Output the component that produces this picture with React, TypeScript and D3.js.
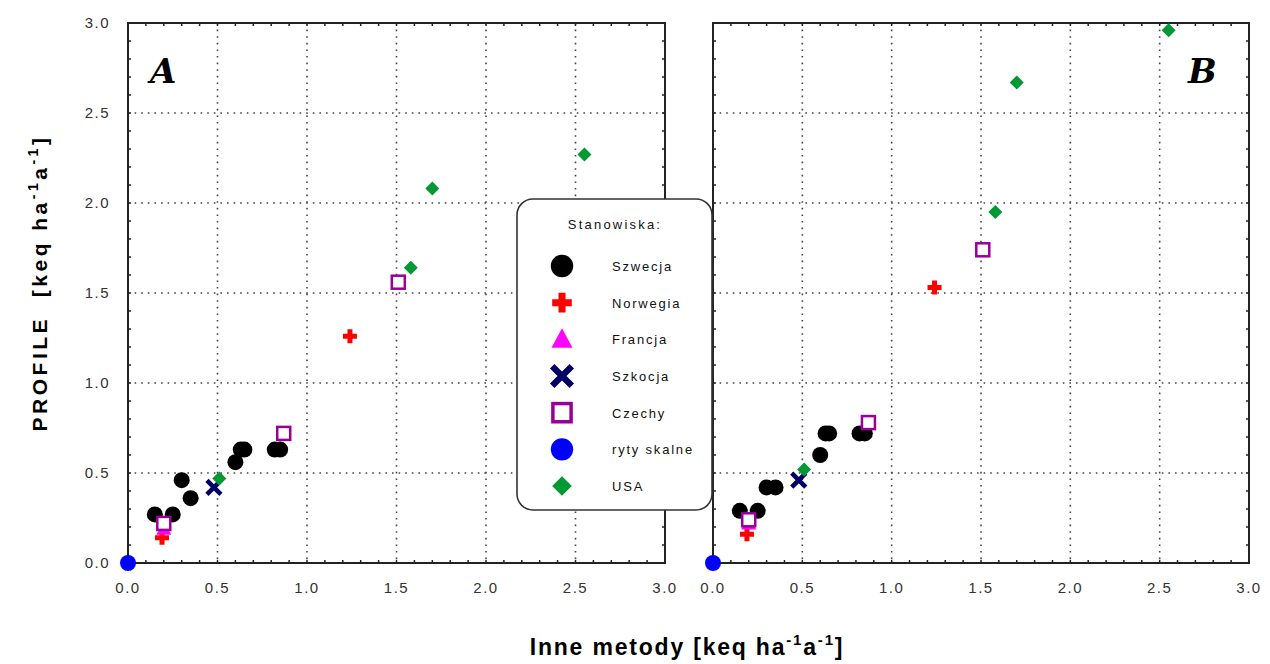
import React from 'react';
import * as d3 from 'd3';

// "Inne metody" values (x) – shared by both panels
const xSzwecja = [0.15, 0.25, 0.30, 0.35, 0.60, 0.63, 0.65, 0.82, 0.85];
const xNorwegia = [0.19, 1.24];
const xFrancja = [0.20];
const xSzkocja = [0.48];
const xCzechy = [0.20, 0.87, 1.51];
const xSkalne = [0.0];
const xUSA = [0.51, 1.58, 1.70, 2.55];

// PROFILE values, panel A
const aSzwecja = [0.27, 0.27, 0.46, 0.36, 0.56, 0.63, 0.63, 0.63, 0.63];
const aNorwegia = [0.14, 1.26];
const aFrancja = [0.19];
const aSzkocja = [0.42];
const aCzechy = [0.22, 0.72, 1.56];
const aSkalne = [0.0];
const aUSA = [0.47, 1.64, 2.08, 2.27];

// PROFILE values, panel B
const bSzwecja = [0.29, 0.29, 0.42, 0.42, 0.60, 0.72, 0.72, 0.72, 0.72];
const bNorwegia = [0.16, 1.53];
const bFrancja = [0.22];
const bSzkocja = [0.46];
const bCzechy = [0.24, 0.78, 1.74];
const bSkalne = [0.0];
const bUSA = [0.52, 1.95, 2.67, 2.96];

const tickLabels = ['0.0', '0.5', '1.0', '1.5', '2.0', '2.5', '3.0'];
const legendNames = ['Szwecja', 'Norwegia', 'Francja', 'Szkocja', 'Czechy', 'ryty skalne', 'USA'];

const series = [
  { key: 'circle', color: '#000000', x: xSzwecja, a: aSzwecja, b: bSzwecja },
  { key: 'cross', color: '#ff0000', x: xNorwegia, a: aNorwegia, b: bNorwegia },
  { key: 'triangle', color: '#ff00ff', x: xFrancja, a: aFrancja, b: bFrancja },
  { key: 'x', color: '#000066', x: xSzkocja, a: aSzkocja, b: bSzkocja },
  { key: 'square', color: '#990099', x: xCzechy, a: aCzechy, b: bCzechy },
  { key: 'circle', color: '#0000ff', x: xSkalne, a: aSkalne, b: bSkalne },
  { key: 'diamond', color: '#009933', x: xUSA, a: aUSA, b: bUSA },
];

const tickFont = { fontFamily: 'Arial, "Liberation Sans", sans-serif', fontSize: 15, fill: '#333', letterSpacing: 1.5 };

// s = scale factor, legend symbols are drawn bigger than the plot ones
function Marker({ kind, color, cx, cy, s = 1 }) {
  const t = `translate(${cx},${cy}) scale(${s})`;
  if (kind === 'circle') return <circle cx={cx} cy={cy} r={8 * s} fill={color} />;
  if (kind === 'cross')
    return (
      <path transform={t} fill={color}
        d="M-2.5,-7H2.5V-2.5H7V2.5H2.5V7H-2.5V2.5H-7V-2.5H-2.5Z" />
    );
  if (kind === 'triangle') return <path transform={t} fill={color} d="M0,-8L7.5,6H-7.5Z" />;
  if (kind === 'x')
    return (
      <path transform={t} stroke={color} strokeWidth={4.5} fill="none" d="M-7,-7L7,7M-7,7L7,-7" />
    );
  if (kind === 'square')
    return <rect transform={t} x={-6.5} y={-6.5} width={13} height={13} fill="white" stroke={color} strokeWidth={2.5} />;
  if (kind === 'diamond') return <path transform={t} fill={color} d="M0,-7L7,0L0,7L-7,0Z" />;
  return null;
}

function Panel({ left, right, top, bottom, which, label, labelX }) {
  const x = d3.scaleLinear().domain([0, 3]).range([left, right]);
  const y = d3.scaleLinear().domain([0, 3]).range([bottom, top]);
  const minor = d3.range(0, 3.0001, 0.1);
  const grid = [0.5, 1, 1.5, 2, 2.5];
  return (
    <g>
      {grid.map((g) => (
        <g key={'g' + g}>
          <line x1={x(g)} x2={x(g)} y1={top} y2={bottom} stroke="#444" strokeWidth={1.6} strokeDasharray="1.6,5" />
          <line x1={left} x2={right} y1={y(g)} y2={y(g)} stroke="#444" strokeWidth={1.6} strokeDasharray="1.6,5" />
        </g>
      ))}
      {minor.map((m, i) => (
        <g key={'t' + i} stroke="#222" strokeWidth={1.5}>
          <line x1={x(m)} x2={x(m)} y1={bottom} y2={bottom - 3} />
          <line x1={x(m)} x2={x(m)} y1={top} y2={top + 3} />
          <line x1={left} x2={left + 3} y1={y(m)} y2={y(m)} />
          <line x1={right} x2={right - 3} y1={y(m)} y2={y(m)} />
        </g>
      ))}
      <rect x={left} y={top} width={right - left} height={bottom - top} fill="none" stroke="#222" strokeWidth={2} />
      {tickLabels.map((t, i) => (
        <text key={'xl' + i} x={x(i * 0.5)} y={bottom + 30} textAnchor="middle" {...tickFont}>{t}</text>
      ))}
      {which === 'a' &&
        tickLabels.map((t, i) => (
          <text key={'yl' + i} x={left - 18} y={y(i * 0.5) + 5} textAnchor="end" {...tickFont}>{t}</text>
        ))}
      <text x={labelX} y={top + 60} fontFamily='"DejaVu Serif", "Liberation Serif", serif' fontStyle="italic"
        fontWeight="bold" fontSize={34} fill="#000">{label}</text>
      {series.map((s, si) =>
        s.x.map((v, i) => (
          <Marker key={si + '-' + i} kind={s.key} color={s.color} cx={x(v)} cy={y(s[which][i])} />
        ))
      )}
    </g>
  );
}

export default function App() {
  const legendX = 517;
  const legendY = 199;
  const rowY = d3.scaleLinear().domain([0, 6]).range([266, 486]);
  return (
    <svg width={1270} height={664} style={{ position: 'absolute', left: 0, top: 0 }}>
      <rect width={1270} height={664} fill="white" />
      <Panel left={128} right={665} top={23} bottom={563} which="a" label="A" labelX={150} />
      <Panel left={713} right={1249} top={23} bottom={563} which="b" label="B" labelX={1188} />

      <rect x={legendX} y={legendY} width={195} height={311} rx={16} fill="white" stroke="#333" strokeWidth={1.6} />
      <text x={615} y={229} textAnchor="middle" fontFamily='Arial, "Liberation Sans", sans-serif' fontSize={13}
        letterSpacing={2.2} fill="#111">Stanowiska:</text>
      {legendNames.map((n, i) => (
        <g key={n}>
          <Marker kind={series[i].key} color={series[i].color} cx={562} cy={rowY(i)} s={1.4} />
          <text x={612} y={rowY(i) + 5} fontFamily='Arial, "Liberation Sans", sans-serif' fontSize={13}
            letterSpacing={1.8} fill="#111">{n}</text>
        </g>
      ))}

      <text transform="translate(47,283) rotate(-90)" textAnchor="middle"
        fontFamily='Arial, "Liberation Sans", sans-serif' fontWeight="bold" fontSize={21} letterSpacing={3.5} fill="#000">
        PROFILE{'\u00a0\u00a0'}[keq ha<tspan dy={-9} fontSize={14}>-1</tspan><tspan dy={9}>a</tspan>
        <tspan dy={-9} fontSize={14}>-1</tspan><tspan dy={9}>]</tspan>
      </text>
      <text x={687} y={655} textAnchor="middle" fontFamily='Arial, "Liberation Sans", sans-serif'
        fontWeight="bold" fontSize={23} letterSpacing={1.8} fill="#000">
        Inne metody [keq ha<tspan dy={-10} fontSize={15}>-1</tspan><tspan dy={10}>a</tspan>
        <tspan dy={-10} fontSize={15}>-1</tspan><tspan dy={10}>]</tspan>
      </text>
    </svg>
  );
}
